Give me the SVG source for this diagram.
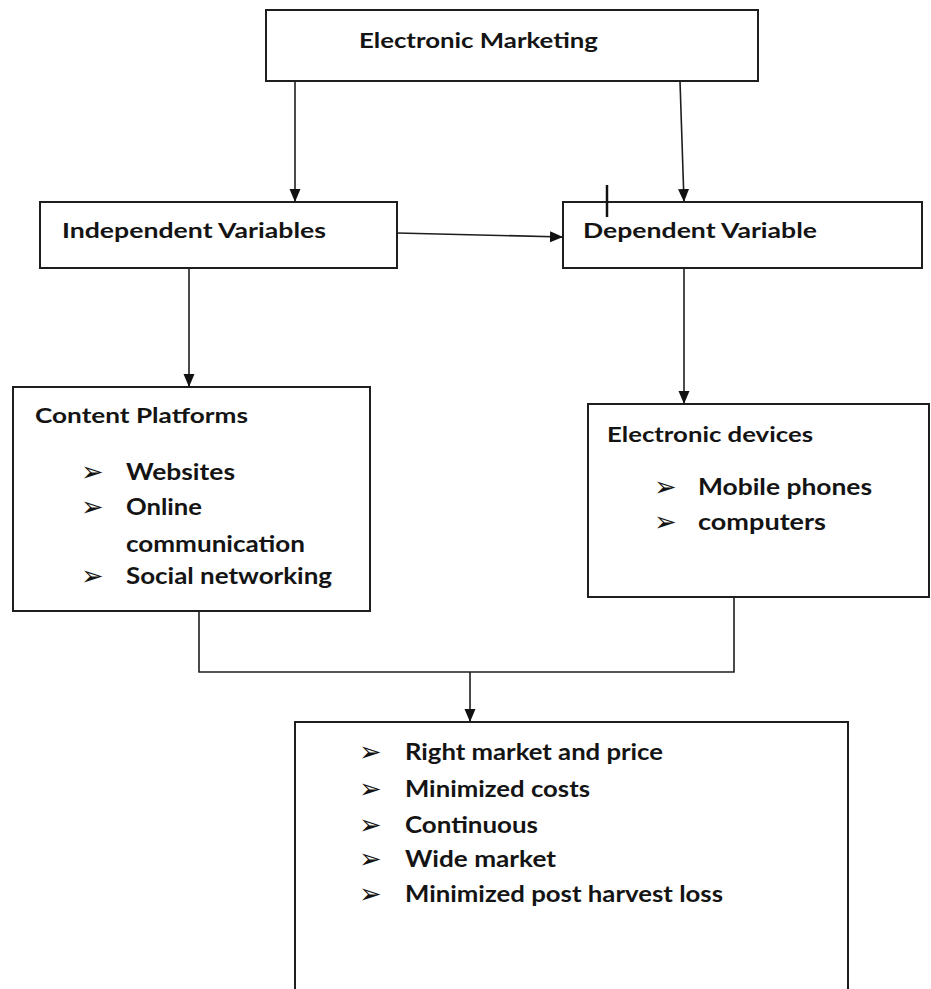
<svg xmlns="http://www.w3.org/2000/svg" width="931" height="989" viewBox="0 0 931 989">
<style>
.box{fill:#fff;stroke:#1e1e1e;stroke-width:2}
.ln{fill:none;stroke:#1e1e1e;stroke-width:1.6}
.h{font-family:Lato,"Liberation Sans",sans-serif;font-weight:bold;font-size:21px;fill:#141414}
.b{font-family:Lato,"Liberation Sans",sans-serif;font-weight:bold;font-size:23px;fill:#141414}
.bul{font-family:"DejaVu Sans",sans-serif;font-size:27px;fill:#141414}
</style>
<defs>
<marker id="ah" markerUnits="userSpaceOnUse" markerWidth="14" markerHeight="14" viewBox="0 0 14 14" refX="13" refY="7" orient="auto">
<path d="M0,1.5 L13,7 L0,12.5 Z" fill="#111"/>
</marker>
</defs>
<rect width="931" height="989" fill="#fff"/>
<g id="electronic-marketing">
<rect class="box" x="266" y="10" width="492" height="71"/>
<text class="h" x="359" y="48" textLength="239" lengthAdjust="spacingAndGlyphs">Electronic Marketing</text>
</g>
<g id="independent-variables">
<rect class="box" x="40" y="202" width="357" height="66"/>
<text class="h" x="62" y="238" textLength="264" lengthAdjust="spacingAndGlyphs">Independent Variables</text>
</g>
<g id="dependent-variable">
<rect class="box" x="563" y="202" width="359" height="66"/>
<text class="h" x="583" y="238" textLength="234" lengthAdjust="spacingAndGlyphs">Dependent Variable</text>
</g>
<g id="content-platforms">
<rect class="box" x="13" y="387" width="357" height="224"/>
<text class="h" x="35" y="423" textLength="213" lengthAdjust="spacingAndGlyphs">Content Platforms</text>
<text class="bul" x="81" y="481">➢</text>
<text class="b" x="126" y="480" textLength="109" lengthAdjust="spacingAndGlyphs">Websites</text>
<text class="bul" x="81" y="516">➢</text>
<text class="b" x="126" y="515" textLength="76" lengthAdjust="spacingAndGlyphs">Online</text>
<text class="b" x="126" y="552" textLength="179" lengthAdjust="spacingAndGlyphs">communication</text>
<text class="bul" x="81" y="585">➢</text>
<text class="b" x="126" y="584" textLength="206" lengthAdjust="spacingAndGlyphs">Social networking</text>
</g>
<g id="electronic-devices">
<rect class="box" x="588" y="404" width="341" height="193"/>
<text class="h" x="607" y="442" textLength="206" lengthAdjust="spacingAndGlyphs">Electronic devices</text>
<text class="bul" x="654" y="496">➢</text>
<text class="b" x="698" y="495" textLength="174" lengthAdjust="spacingAndGlyphs">Mobile phones</text>
<text class="bul" x="654" y="531">➢</text>
<text class="b" x="698" y="530" textLength="128" lengthAdjust="spacingAndGlyphs">computers</text>
</g>
<g id="outcomes">
<rect class="box" x="295" y="722" width="553" height="290"/>
<text class="bul" x="359" y="761">➢</text>
<text class="b" x="405" y="760" textLength="258" lengthAdjust="spacingAndGlyphs">Right market and price</text>
<text class="bul" x="359" y="798">➢</text>
<text class="b" x="405" y="797" textLength="185" lengthAdjust="spacingAndGlyphs">Minimized costs</text>
<text class="bul" x="359" y="834">➢</text>
<text class="b" x="405" y="833" textLength="133" lengthAdjust="spacingAndGlyphs">Continuous</text>
<text class="bul" x="359" y="868">➢</text>
<text class="b" x="405" y="867" textLength="151" lengthAdjust="spacingAndGlyphs">Wide market</text>
<text class="bul" x="359" y="903">➢</text>
<text class="b" x="405" y="902" textLength="318" lengthAdjust="spacingAndGlyphs">Minimized post harvest loss</text>
</g>
<g id="connectors">
<line class="ln" x1="295" y1="81" x2="295" y2="202" marker-end="url(#ah)"/>
<line class="ln" x1="680" y1="81" x2="684" y2="202" marker-end="url(#ah)"/>
<line class="ln" x1="397" y1="233" x2="563" y2="237" marker-end="url(#ah)"/>
<line x1="607" y1="185" x2="607" y2="217" stroke="#111" stroke-width="2.5"/>
<line class="ln" x1="189" y1="268" x2="189" y2="387" marker-end="url(#ah)"/>
<line class="ln" x1="684" y1="268" x2="684" y2="404" marker-end="url(#ah)"/>
<polyline class="ln" points="199,611 199,672 734,672 734,597"/>
<line class="ln" x1="470" y1="672" x2="470" y2="722" marker-end="url(#ah)"/>
</g>
</svg>
